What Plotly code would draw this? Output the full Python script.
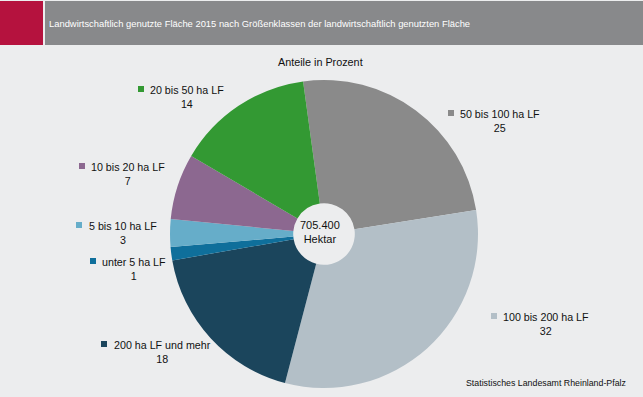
import plotly.graph_objects as go

categories = ["50 bis 100 ha LF", "100 bis 200 ha LF", "200 ha LF und mehr",
              "unter 5 ha LF", "5 bis 10 ha LF", "10 bis 20 ha LF", "20 bis 50 ha LF"]
values = [24.7, 31.6, 18.2, 1.4, 2.9, 6.9, 14.4]
shown_values = [25, 32, 18, 1, 3, 7, 14]
colors = ["#8a8a8a", "#b3bfc7", "#1b455c", "#0f6f9b", "#66adc9", "#8c6890", "#339933"]

W, H = 643, 397
FONT = "Liberation Sans, Arial, sans-serif"

fig = go.Figure()
cx, cy, r = 324, 234, 154
fig.add_trace(go.Pie(
    labels=categories, values=values, sort=False, direction="clockwise",
    rotation=-7.8, hole=0.2, textinfo="none", hoverinfo="label+value",
    marker=dict(colors=colors, line=dict(width=0)),
    domain=dict(x=[(cx - r) / W, (cx + r) / W], y=[(H - cy - r) / H, (H - cy + r) / H]),
    showlegend=False,
))

def px(x):
    return x / W

def py(y):
    return 1 - y / H

shapes = [
    dict(type="rect", xref="paper", yref="paper", x0=0, x1=px(43), y0=py(45), y1=py(1),
         fillcolor="#b5123e", line=dict(width=0), layer="below"),
    dict(type="rect", xref="paper", yref="paper", x0=px(45), x1=1, y0=py(45), y1=py(1),
         fillcolor="#88898b", line=dict(width=0), layer="below"),
]

annotations = [
    dict(text="Landwirtschaftlich genutzte Fläche 2015 nach Größenklassen der landwirtschaftlich genutzten Fläche",
         x=px(47), y=py(23), xanchor="left", yanchor="middle",
         font=dict(family=FONT, size=9.4, color="white")),
    dict(text="Anteile in Prozent", x=px(320), y=py(62), xanchor="center", yanchor="middle",
         font=dict(family=FONT, size=10.8, color="#111111")),
    dict(text="705.400<br>Hektar", x=px(320), y=py(232), xanchor="center", yanchor="middle",
         font=dict(family=FONT, size=11, color="#111111")),
    dict(text="Statistisches Landesamt Rheinland-Pfalz", x=px(628), y=py(383), xanchor="right",
         yanchor="middle", font=dict(family=FONT, size=8.8, color="#111111")),
]

# label layout: (square x, text left x, text y)
label_pos = {
    "20 bis 50 ha LF": (141, 148, 89),
    "10 bis 20 ha LF": (82, 89, 166),
    "5 bis 10 ha LF": (79, 87, 225),
    "unter 5 ha LF": (93, 100, 261),
    "200 ha LF und mehr": (104, 112, 344),
    "50 bis 100 ha LF": (451, 458, 113),
    "100 bis 200 ha LF": (494, 501, 316),
}

for cat, val, col in zip(categories, shown_values, colors):
    sx, tx, ty = label_pos[cat]
    shapes.append(dict(type="rect", xref="paper", yref="paper",
                       x0=px(sx - 3), x1=px(sx + 3), y0=py(ty + 3), y1=py(ty - 3),
                       fillcolor=col, line=dict(width=0)))
    annotations.append(dict(text=f"{cat}<br>{val}", x=px(tx), y=py(ty - 7), xanchor="left",
                            yanchor="top", align="center", showarrow=False,
                            font=dict(family=FONT, size=10.7, color="#111111")))

for a in annotations:
    a.setdefault("showarrow", False)
    a["xref"] = "paper"
    a["yref"] = "paper"

fig.update_layout(
    width=W, height=H, margin=dict(l=0, r=0, t=0, b=0),
    paper_bgcolor="#ecedee", plot_bgcolor="#ecedee",
    shapes=shapes, annotations=annotations,
)

fig.write_html("out.html", post_script="document.body.style.margin='0';document.body.style.padding='0';",
               config={"displayModeBar": False})
